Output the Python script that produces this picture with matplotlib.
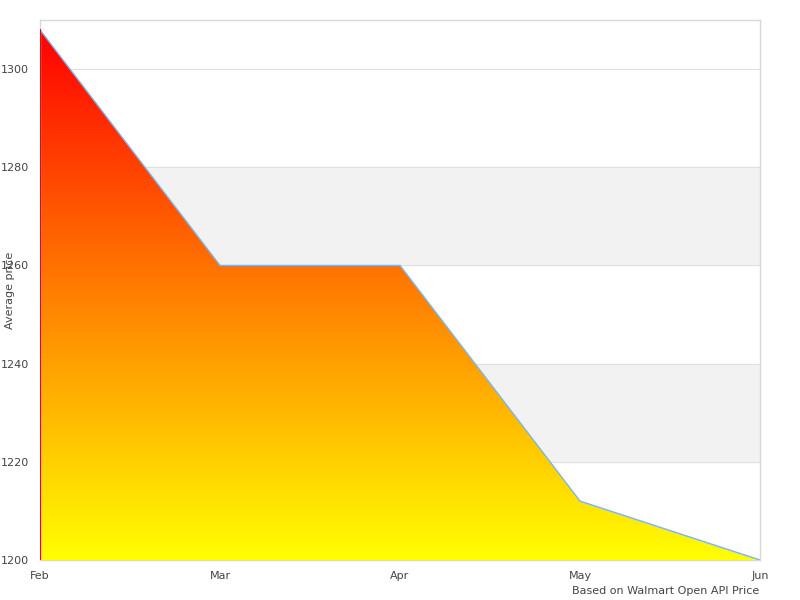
import numpy as np
import matplotlib
matplotlib.use('Agg')
import matplotlib.pyplot as plt
from matplotlib.colors import LinearSegmentedColormap

months = ['Feb', 'Mar', 'Apr', 'May', 'Jun']
prices = [1308, 1260, 1260, 1212, 1200]
yticks = [1200, 1220, 1240, 1260, 1280, 1300]

fig = plt.figure(figsize=(8, 6), dpi=100)
ax = fig.add_axes([0.05, 1 - 560 / 600, 0.9, 540 / 600])

x = np.arange(len(months))
ax.set_xlim(0, len(months) - 1)
ax.set_ylim(1200, 1310)

# alternating bands
for lo in [1220, 1260]:
    ax.axhspan(lo, lo + 20, color='#f2f2f2', zorder=0)
for t in yticks[1:]:
    ax.axhline(t, color='#e0e0e0', lw=0.8, zorder=1)

poly = ax.fill_between(x, prices, 1200, color='none', lw=0, zorder=2)
cmap = LinearSegmentedColormap.from_list('ry', ['#ffff00', '#ff0000'])
grad = np.linspace(0, 1, 256).reshape(-1, 1)
img = ax.imshow(grad, cmap=cmap, aspect='auto', origin='lower',
                extent=[0, len(months) - 1, 1200, max(prices)], zorder=2)
img.set_clip_path(poly.get_paths()[0], transform=ax.transData)
ax.plot(x, prices, color='#7cb5ec', lw=1, zorder=3)
ax.plot([0, 0], [1200, prices[0]], color='#ff0000', lw=1.5, zorder=3)

ax.set_xticks(x)
ax.set_xticklabels(months)
ax.set_yticks(yticks)
ax.tick_params(length=0, labelsize=8, colors='#444444', pad=8)
for s in ax.spines.values():
    s.set_color('#d8d8d8')
    s.set_linewidth(1)

fig.text(0.012, 1 - 290 / 600, 'Average price', rotation=90, fontsize=8,
         color='#444444', ha='center', va='center')
fig.text(759 / 800, 1 - 591 / 600, 'Based on Walmart Open API Price',
         fontsize=8, color='#444444', ha='right', va='center')

fig.savefig('out.png')
